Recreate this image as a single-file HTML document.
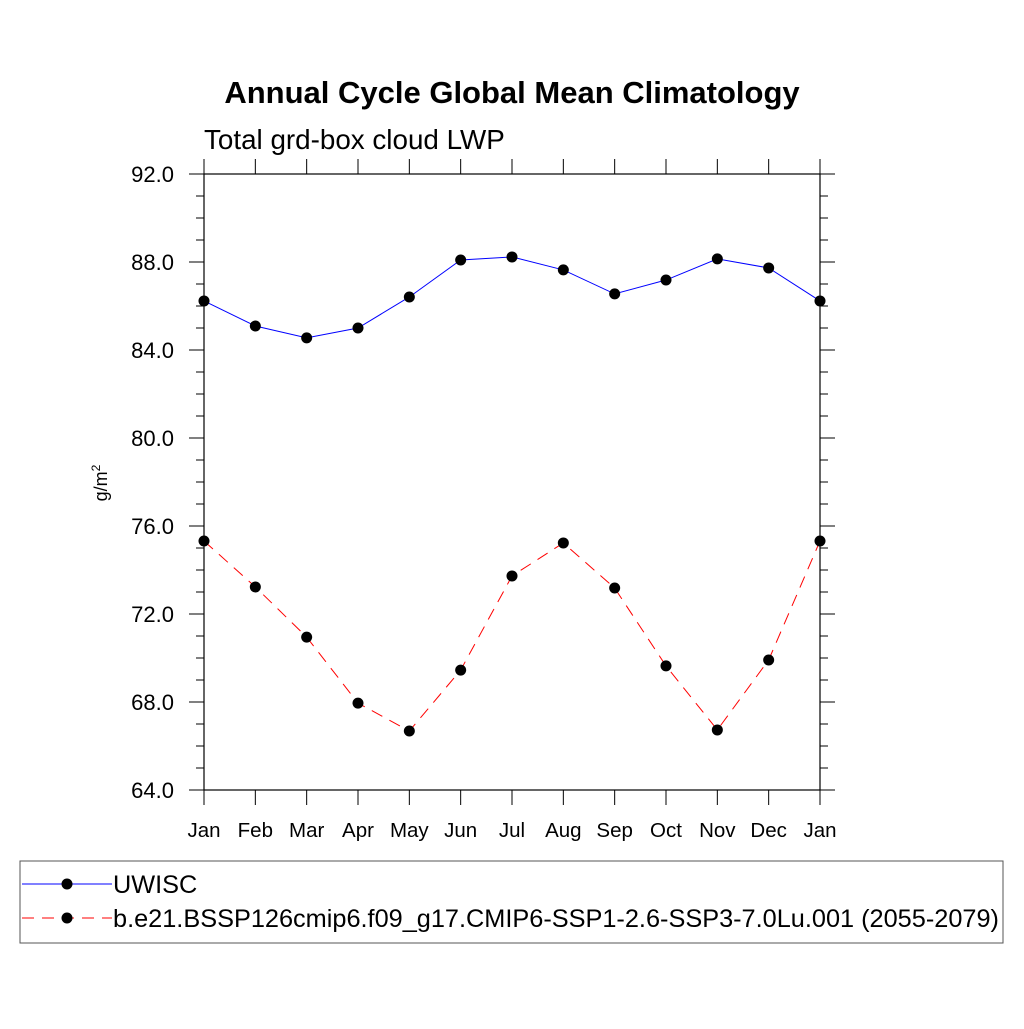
<!DOCTYPE html>
<html><head><meta charset="utf-8"><style>
body{margin:0;background:#fff;}
svg text{font-family:"Liberation Sans",sans-serif;}
</style></head><body>
<svg id="chart" width="1024" height="1024" xmlns="http://www.w3.org/2000/svg">
<text x="512" y="103" text-anchor="middle" font-size="31" font-weight="bold">Annual Cycle Global Mean Climatology</text>
<text x="204" y="149" font-size="27.8">Total grd-box cloud LWP</text>
<text transform="translate(107,483) rotate(-90)" text-anchor="middle" font-size="18">g/m<tspan dy="-7" font-size="12">2</tspan></text>
<g id="axes"></g>
<g id="series"></g>
<rect x="20" y="861" width="983" height="82" fill="none" stroke="#555" stroke-width="1"/>
<line x1="22" y1="884" x2="112" y2="884" stroke="#0000ff" stroke-width="1"/>
<circle cx="67" cy="884" r="5.5" fill="#000"/>
<text x="113" y="893" font-size="25.3">UWISC</text>
<line x1="22" y1="918" x2="112" y2="918" stroke="#ff0000" stroke-width="1" stroke-dasharray="12,8"/>
<circle cx="67" cy="918" r="5.5" fill="#000"/>
<text x="113" y="927" font-size="25.3">b.e21.BSSP126cmip6.f09_g17.CMIP6-SSP1-2.6-SSP3-7.0Lu.001 (2055-2079)</text>
</svg>
<script>
const months=["Jan","Feb","Mar","Apr","May","Jun","Jul","Aug","Sep","Oct","Nov","Dec","Jan"];
const uwisc=[86.23,85.09,84.55,85.0,86.41,88.09,88.23,87.64,86.55,87.18,88.14,87.73,86.23];
const model=[75.32,73.23,70.95,67.95,66.68,69.45,73.73,75.23,73.18,69.64,66.73,69.91,75.32];
const yTicks=[64,68,72,76,80,84,88,92];
const yTickLabels=["64.0","68.0","72.0","76.0","80.0","84.0","88.0","92.0"];
const X0=204,X1=820,Y0=790,Y1=174,YMIN=64,YMAX=92;
function xs(i){return X0+(X1-X0)*i/(months.length-1);}
function ys(v){return Y0-(v-YMIN)/(YMAX-YMIN)*(Y0-Y1);}
const NS="http://www.w3.org/2000/svg";
function mk(tag,attrs,parent){const e=document.createElementNS(NS,tag);for(const k in attrs)e.setAttribute(k,attrs[k]);parent.appendChild(e);return e;}
const ax=document.getElementById('axes');
const frame=mk('rect',{x:X0,y:Y1,width:X1-X0,height:Y0-Y1,fill:'none',stroke:'#000','stroke-width':1.2},ax);


for(let v=YMIN;v<=YMAX;v+=1){
  const major=(v%4===0);const L=major?15:8;const y=ys(v);
  const t1=mk('line',{x1:X0-L,y1:y,x2:X0,y2:y,stroke:'#000','stroke-width':1},ax);
  
  
  const t2=mk('line',{x1:X1,y1:y,x2:X1+L,y2:y,stroke:'#000','stroke-width':1},ax);
  
  
}
yTicks.forEach((v,i)=>{
  const t=mk('text',{x:174,y:ys(v)+8,'text-anchor':'end','font-size':22},ax);
  t.textContent=yTickLabels[i];
  
  
});
months.forEach((m,i)=>{
  const x=xs(i);
  const a=mk('line',{x1:x,y1:Y0,x2:x,y2:Y0+15,stroke:'#000','stroke-width':1},ax);
  
  
  const b=mk('line',{x1:x,y1:Y1-15,x2:x,y2:Y1,stroke:'#000','stroke-width':1},ax);
  
  
  const t=mk('text',{x:x,y:837,'text-anchor':'middle','font-size':20.5},ax);
  t.textContent=m;
  
  
});
const sg=document.getElementById('series');
function draw(vals,color,dash,name){
  const pts=vals.map((v,i)=>xs(i)+','+ys(v)).join(' ');
  const pl=mk('polyline',{points:pts,fill:'none',stroke:color,'stroke-width':1,'stroke-dasharray':dash},sg);
  
  
  vals.forEach((v,i)=>{
    const c=mk('circle',{cx:xs(i),cy:ys(v),r:5.5,fill:'#000'},sg);
    
    
  });
}
draw(uwisc,'#0000ff','none','uwisc');
draw(model,'#ff0000','12,8','model');
</script>
</body></html>
